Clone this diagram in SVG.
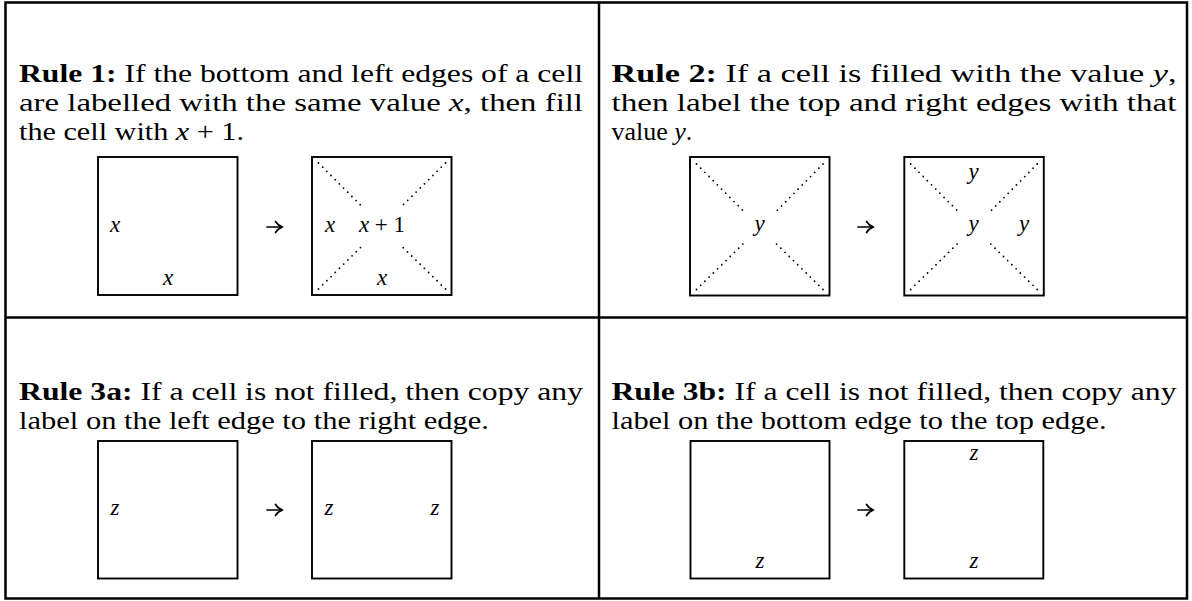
<svg xmlns="http://www.w3.org/2000/svg" width="1192" height="601" viewBox="0 0 1192 601">
<style>
.frame{fill:none;stroke:#000;stroke-width:2.5}
.box{fill:none;stroke:#000;stroke-width:1.9}
.dots{fill:none;stroke:#000;stroke-width:1.8;stroke-linecap:round;stroke-dasharray:0 5.9}
.body{font-family:"Liberation Serif","Times New Roman",serif;font-size:26px;fill:#000}
.b{font-weight:bold}
.i{font-style:italic}
.lab{font-family:"Liberation Serif","Times New Roman",serif;font-size:23px;font-style:italic;fill:#000;text-anchor:middle}
.lab .r{font-style:normal}
.arr{fill:none;stroke:#000;stroke-width:1.7;stroke-linecap:round;stroke-linejoin:round}
</style>
<rect width="1192" height="601" fill="#fff"/>
<g id="table">
<rect class="frame" x="5.5" y="2.5" width="1181.5" height="596"/>
<line class="frame" x1="599" y1="2.5" x2="599" y2="598.5"/>
<line class="frame" x1="5.5" y1="317.5" x2="1187" y2="317.5"/>
</g>
<g id="rule1">
<text class="body" x="19" y="82" textLength="564" lengthAdjust="spacingAndGlyphs"><tspan class="b">Rule 1:</tspan> If the bottom and left edges of a cell</text>
<text class="body" x="19" y="111" textLength="564" lengthAdjust="spacingAndGlyphs">are labelled with the same value <tspan class="i">x</tspan>, then fill</text>
<text class="body" x="19" y="140" textLength="225" lengthAdjust="spacingAndGlyphs">the cell with <tspan class="i">x</tspan> + 1.</text>
<g id="r1-before">
<rect class="box" x="98" y="157" width="139.5" height="138"/>
<text class="lab" x="115" y="232">x</text>
<text class="lab" x="168" y="285">x</text>
</g>
<g id="r1-after">
<rect class="box" x="312" y="157" width="139.5" height="138"/>
<path class="dots" d="M318.5 163L360.5 205M445.5 163L403 205M318.5 289L361 247M445.5 289L402.5 247"/>
<text class="lab" x="330" y="232">x</text>
<text class="lab" x="382" y="232">x <tspan class="r">+ 1</tspan></text>
<text class="lab" x="382" y="285">x</text>
</g>
</g>
<g id="rule2">
<text class="body" x="611.5" y="82" textLength="565" lengthAdjust="spacingAndGlyphs"><tspan class="b">Rule 2:</tspan> If a cell is filled with the value <tspan class="i">y</tspan>,</text>
<text class="body" x="611.5" y="111" textLength="565" lengthAdjust="spacingAndGlyphs">then label the top and right edges with that</text>
<text class="body" x="611.5" y="140">value <tspan class="i">y</tspan>.</text>
<g id="r2-before">
<rect class="box" x="690" y="157" width="139.5" height="138.5"/>
<path class="dots" d="M696.5 164L744 211.5M823 164L776 211.5M696.5 289.5L743 244M823 289.5L776 243.5"/>
<text class="lab" x="759.5" y="231">y</text>
</g>
<g id="r2-after">
<rect class="box" x="904.3" y="157" width="139.5" height="138.5"/>
<path class="dots" d="M910.7 164L958.2 211.5M1037.2 164L990.2 211.5M910.7 289.5L957.2 244M1037.2 289.5L990.2 243.5"/>
<text class="lab" x="973.5" y="179">y</text>
<text class="lab" x="973.5" y="231">y</text>
<text class="lab" x="1024" y="231">y</text>
</g>
</g>
<g id="rule3a">
<text class="body" x="19" y="400" textLength="564" lengthAdjust="spacingAndGlyphs"><tspan class="b">Rule 3a:</tspan> If a cell is not filled, then copy any</text>
<text class="body" x="19" y="429" textLength="470" lengthAdjust="spacingAndGlyphs">label on the left edge to the right edge.</text>
<g id="r3a-before">
<rect class="box" x="98" y="441" width="139.5" height="137.5"/>
<text class="lab" x="115" y="515">z</text>
</g>
<g id="r3a-after">
<rect class="box" x="312" y="441" width="139.5" height="137.5"/>
<text class="lab" x="329" y="515">z</text>
<text class="lab" x="435" y="515">z</text>
</g>
</g>
<g id="rule3b">
<text class="body" x="611.5" y="400" textLength="565" lengthAdjust="spacingAndGlyphs"><tspan class="b">Rule 3b:</tspan> If a cell is not filled, then copy any</text>
<text class="body" x="611.5" y="429" textLength="495" lengthAdjust="spacingAndGlyphs">label on the bottom edge to the top edge.</text>
<g id="r3b-before">
<rect class="box" x="690.5" y="441" width="139" height="137.5"/>
<text class="lab" x="760" y="568">z</text>
</g>
<g id="r3b-after">
<rect class="box" x="904.3" y="441" width="139" height="137.5"/>
<text class="lab" x="974" y="460">z</text>
<text class="lab" x="974" y="568">z</text>
</g>
</g>
<g id="connectors">
<path class="arr" d="M267 227H281.5M275.5 221.5Q278 225.5 282.5 227Q278 228.5 275.5 232.5"/>
<path class="arr" d="M858 227H872.5M866.5 221.5Q869 225.5 873.5 227Q869 228.5 866.5 232.5"/>
<path class="arr" d="M267 510H281.5M275.5 504.5Q278 508.5 282.5 510Q278 511.5 275.5 515.5"/>
<path class="arr" d="M858 510H872.5M866.5 504.5Q869 508.5 873.5 510Q869 511.5 866.5 515.5"/>
</g>
</svg>
